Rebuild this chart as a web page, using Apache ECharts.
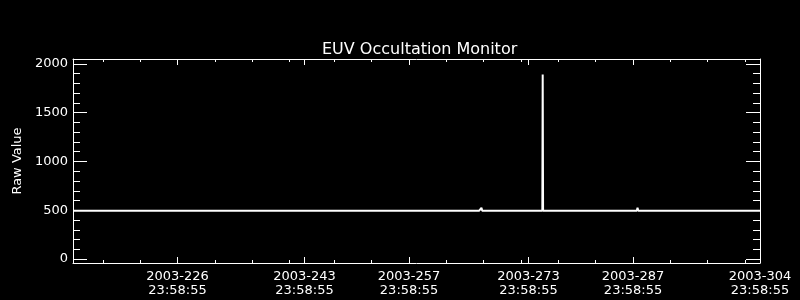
<!DOCTYPE html>
<html>
<head>
<meta charset="utf-8">
<script src="https://cdn.jsdelivr.net/npm/echarts@6/dist/echarts.min.js"></script>
<style>
html,body{margin:0;padding:0;background:#000;}
#c{width:800px;height:300px;}
</style>
</head>
<body>
<div id="c"></div>
<script>
// Day of year 2003 (label time 23:58:55)
const days = [212.0, 215.8, 215.9, 216.0, 216.9, 217.0, 217.1, 229.2, 229.3, 229.4,
  234.0, 234.1, 234.2, 240.9, 241.0, 241.1, 242.6, 242.7, 242.8, 247.2, 247.3, 247.4,
  247.9, 248.0, 248.1, 249.9, 250.0, 250.1, 250.6, 250.7, 250.8, 251.2, 251.3, 251.4,
  253.0, 253.1, 253.2, 253.7, 253.8, 253.9, 254.8, 254.9, 255.0, 260.5, 260.6, 260.7,
  261.1, 261.2, 261.3, 262.7, 262.8, 262.9, 263.5, 263.6, 263.7, 264.4, 264.5, 264.6,
  265.1, 265.2, 265.3, 265.4, 266.4, 266.5, 266.6, 266.7, 266.8, 268.0, 268.1, 268.2,
  270.5, 270.6, 270.7, 273.3, 273.4, 273.5, 274.85, 274.9, 274.95, 286.1, 286.2, 286.3,
  287.5, 287.6, 287.7, 304.0];
const rawValues = [496, 496, 506, 496, 496, 504, 496, 496, 503, 496,
  496, 482, 496, 496, 503, 496, 496, 484, 496, 496, 503, 496,
  496, 503, 496, 496, 503, 496, 496, 502, 496, 496, 502, 496,
  496, 503, 496, 496, 503, 496, 496, 502, 496, 496, 504, 496,
  496, 504, 496, 496, 480, 496, 496, 482, 496, 496, 503, 496,
  496, 503, 480, 496, 496, 478, 496, 525, 496, 496, 483, 496,
  496, 484, 496, 496, 483, 496, 496, 1890, 496, 496, 505, 496,
  496, 525, 496, 496];

const xMajorTicks = [226, 243, 257, 273, 287, 304];
const xMinorTicks = [216, 221, 226, 231, 236, 241, 247, 252, 262, 267, 272, 277, 282, 292, 297, 302];
const yMajorTicks = [0, 500, 1000, 1500, 2000];
const yMinorTicks = [100, 200, 300, 400, 600, 700, 800, 900, 1100, 1200, 1300, 1400, 1600, 1700, 1800, 1900];
const yearLabel = '2003';
const timeLabel = '23:58:55';

const FONT = 'DejaVu Sans';
const WHITE = '#ffffff';
const X_MIN = 212, X_MAX = 304, Y_MIN = -40, Y_MAX = 2050;

function xAx(position, ticks, len, showLine, showLabel) {
  return {
    type: 'value', position: position, min: X_MIN, max: X_MAX, gridIndex: 0,
    axisLine: { show: showLine, onZero: false, lineStyle: { color: WHITE, width: 1 } },
    axisTick: { show: true, inside: true, length: len, customValues: ticks, lineStyle: { color: WHITE, width: 1 } },
    axisLabel: showLabel ? {
      show: true, customValues: xMajorTicks, color: WHITE, fontFamily: FONT, fontSize: 13,
      lineHeight: 14, margin: 7,
      formatter: v => yearLabel + '-' + Math.round(v) + '\n' + timeLabel
    } : { show: false },
    splitLine: { show: false }
  };
}
function yAx(position, ticks, len, showLine, showLabel) {
  const a = {
    type: 'value', position: position, min: Y_MIN, max: Y_MAX, gridIndex: 0,
    axisLine: { show: showLine, onZero: false, lineStyle: { color: WHITE, width: 1 } },
    axisTick: { show: true, inside: true, length: len, customValues: ticks, lineStyle: { color: WHITE, width: 1 } },
    axisLabel: showLabel ? {
      show: true, customValues: yMajorTicks, color: WHITE, fontFamily: FONT, fontSize: 13, margin: 5,
      formatter: v => String(Math.round(v))
    } : { show: false },
    splitLine: { show: false }
  };
  if (showLabel) {
    a.name = 'Raw Value';
    a.nameLocation = 'middle';
    a.nameRotate = 90;
    a.nameGap = 45;
    a.nameTextStyle = { color: WHITE, fontFamily: FONT, fontSize: 13 };
  }
  return a;
}

const chart = echarts.init(document.getElementById('c'), null, { renderer: 'canvas' });
chart.setOption({
  backgroundColor: '#000000',
  animation: false,
  title: {
    text: 'EUV Occultation Monitor', left: 317, top: 37,
    textStyle: { color: WHITE, fontFamily: FONT, fontSize: 16, fontWeight: 'normal' }
  },
  grid: { left: 73, right: 40, top: 59, bottom: 37, containLabel: false },
  xAxis: [
    xAx('bottom', xMajorTicks, 6, true, true),
    xAx('bottom', xMinorTicks, 3, false, false),
    xAx('top', xMajorTicks, 6, true, false),
    xAx('top', xMinorTicks, 3, false, false)
  ],
  yAxis: [
    yAx('left', yMajorTicks, 14, true, true),
    yAx('left', yMinorTicks, 7, false, false),
    yAx('right', yMajorTicks, 14, true, false),
    yAx('right', yMinorTicks, 7, false, false)
  ],
  series: [{
    type: 'line', xAxisIndex: 0, yAxisIndex: 0,
    data: days.map((d, i) => [d, rawValues[i]]),
    showSymbol: false, symbol: 'none',
    lineStyle: { color: WHITE, width: 2 },
    clip: true
  }]
});
</script>
</body>
</html>
